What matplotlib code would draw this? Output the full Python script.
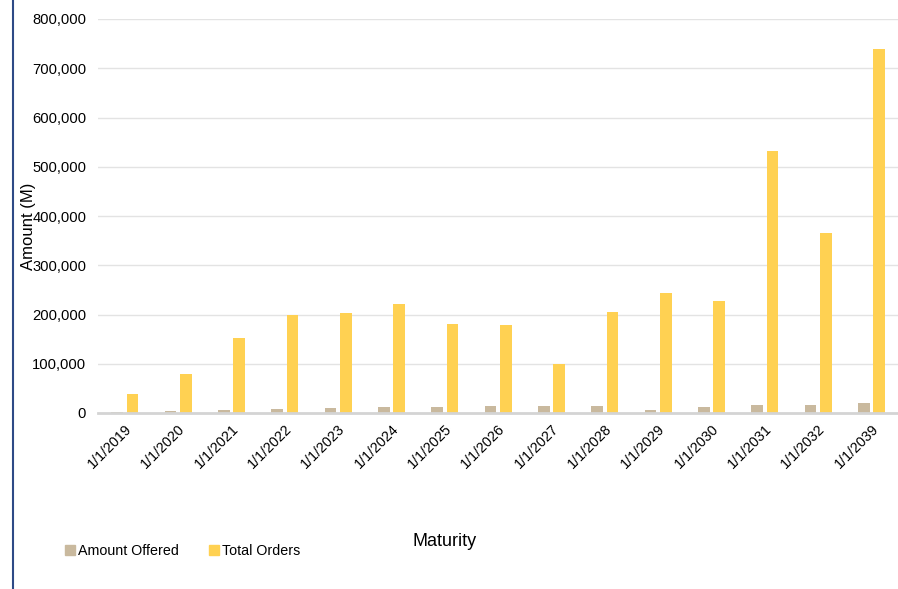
import numpy as np
import matplotlib.pyplot as plt
from matplotlib.patches import Patch
from matplotlib.lines import Line2D

plt.rcParams['font.family'] = ['Liberation Sans', 'DejaVu Sans']

maturity = ['1/1/2019', '1/1/2020', '1/1/2021', '1/1/2022', '1/1/2023',
            '1/1/2024', '1/1/2025', '1/1/2026', '1/1/2027', '1/1/2028',
            '1/1/2029', '1/1/2030', '1/1/2031', '1/1/2032', '1/1/2039']
amount_offered = [2000, 5000, 7000, 8000, 10000, 13000, 13000, 13500, 14000,
                  15000, 6500, 12000, 15500, 16500, 19500]
total_orders = [38000, 80000, 153000, 200000, 204000, 221000, 181000, 179000,
                100000, 205000, 243000, 228000, 531000, 365000, 740000]

c_off = '#C9B99E'
c_tot = '#FFD152'

fig = plt.figure(figsize=(8.98, 5.89), dpi=100)
ax = fig.add_axes([98/898, 1-413/589, 800/898, 394/589])

x = np.arange(len(maturity))
w = 0.22
ax.bar(x - 0.14, amount_offered, w, color=c_off)
ax.bar(x + 0.145, total_orders, w, color=c_tot)

ax.set_xlim(-0.5, len(maturity) - 0.5)
ax.set_ylim(0, 800000)
ax.set_yticks(np.arange(0, 800001, 100000))
ax.set_yticklabels(['{:,}'.format(v) for v in range(0, 800001, 100000)], fontsize=10.6)
ax.set_xticks(x)
ax.set_xticklabels(maturity, rotation=45, ha='right', rotation_mode='anchor', fontsize=10.3)
ax.tick_params(axis='both', length=0)
ax.tick_params(axis='y', pad=8.5)
ax.tick_params(axis='x', pad=6)

ax.grid(axis='y', color='#E3E3E3', linewidth=1)
ax.set_axisbelow(True)
for s in ['top', 'right', 'left']:
    ax.spines[s].set_visible(False)
ax.spines['bottom'].set_color('#D4D4D4')
ax.spines['bottom'].set_linewidth(2)
ax.spines['bottom'].set_zorder(3)

fig.text(28/898, 1-226/589, 'Amount (M)', rotation=90, fontsize=12,
         ha='center', va='center')
fig.text(445/898, 1-541/589, 'Maturity', fontsize=13, ha='center', va='center')

handles = [Patch(color=c_off, label='Amount Offered'),
           Patch(color=c_tot, label='Total Orders')]
fig.legend(handles=handles, loc='center left', bbox_to_anchor=(52/898, 1-551/589),
           ncol=2, frameon=False, fontsize=10.3, handlelength=0.7, handleheight=0.7,
           handletextpad=0.2, columnspacing=2.1)

fig.add_artist(Line2D([13/898, 13/898], [0, 1], color='#2E4A86', linewidth=1.5))

fig.savefig('out.png', dpi=100)
